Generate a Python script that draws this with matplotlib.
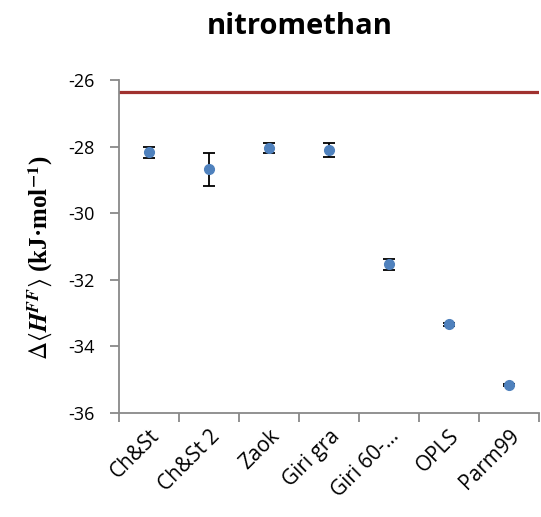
import matplotlib
matplotlib.use("Agg")
import matplotlib.pyplot as plt
import matplotlib.transforms as mtransforms
import numpy as np

categories = ["Ch&St", "Ch&St 2", "Zaok", "Giri gra", "Giri 60-…", "OPLS", "Parm99"]
values = [-28.17, -28.68, -28.05, -28.10, -31.53, -33.33, -35.15]
errors = [0.17, 0.50, 0.15, 0.20, 0.17, 0.05, 0.03]
reference = -26.37
yticks = [-36, -34, -32, -30, -28, -26]

plt.rcParams['mathtext.fontset'] = 'stix'

fig = plt.figure(figsize=(5.41, 5.17), dpi=100)
ax = fig.add_axes([0.22, 0.201, 0.776, 0.644])

x = np.arange(len(categories))
ax.errorbar(x, values, yerr=errors, fmt='o', color='#4F81BD', markersize=7,
            ecolor='black', elinewidth=1.3, capsize=4, capthick=1.3, zorder=3)
ax.axhline(reference, color='#A0312F', linewidth=2.3, zorder=2)

ax.set_xlim(-0.5, len(categories) - 0.5)
ax.set_ylim(-36, -26)
ax.set_yticks(yticks)
ax.set_yticklabels([str(v) for v in yticks], fontfamily='Open Sans', fontsize=13)
ax.set_xticks(x)
ax.set_xticklabels(categories, rotation=45, ha='right', rotation_mode='anchor',
                   fontfamily='Open Sans', fontsize=15)
offset = mtransforms.ScaledTranslation(4 / 100, 0, fig.dpi_scale_trans)
for lbl in ax.get_xticklabels():
    lbl.set_transform(lbl.get_transform() + offset)
ax.set_xticks(np.arange(-0.5, len(categories)), minor=True)
ax.tick_params(axis='x', which='major', length=0, pad=9)
ax.tick_params(axis='x', which='minor', length=6.5, color='#898989', width=1.3, direction='out')
ax.tick_params(axis='y', length=6.5, color='#898989', width=1.3, direction='out', pad=11)

for s in ['top', 'right']:
    ax.spines[s].set_visible(False)
for s in ['left', 'bottom']:
    ax.spines[s].set_color('#898989')
    ax.spines[s].set_linewidth(1.3)

fig.text(40 / 541, 1 - 258 / 517,
         r'$\Delta\langle \mathbfit{H}^{\mathbfit{FF}}\rangle$ (kJ·mol$^{\mathbf{-1}}$)',
         rotation=90, ha='center', va='center',
         fontfamily='Liberation Serif', fontweight='bold', fontsize=18)

fig.text(300 / 541, 1 - 26 / 517, 'nitromethan', ha='center', va='center',
         fontfamily='Open Sans', fontweight='bold', fontsize=21)

fig.savefig('out.png', dpi=100)
